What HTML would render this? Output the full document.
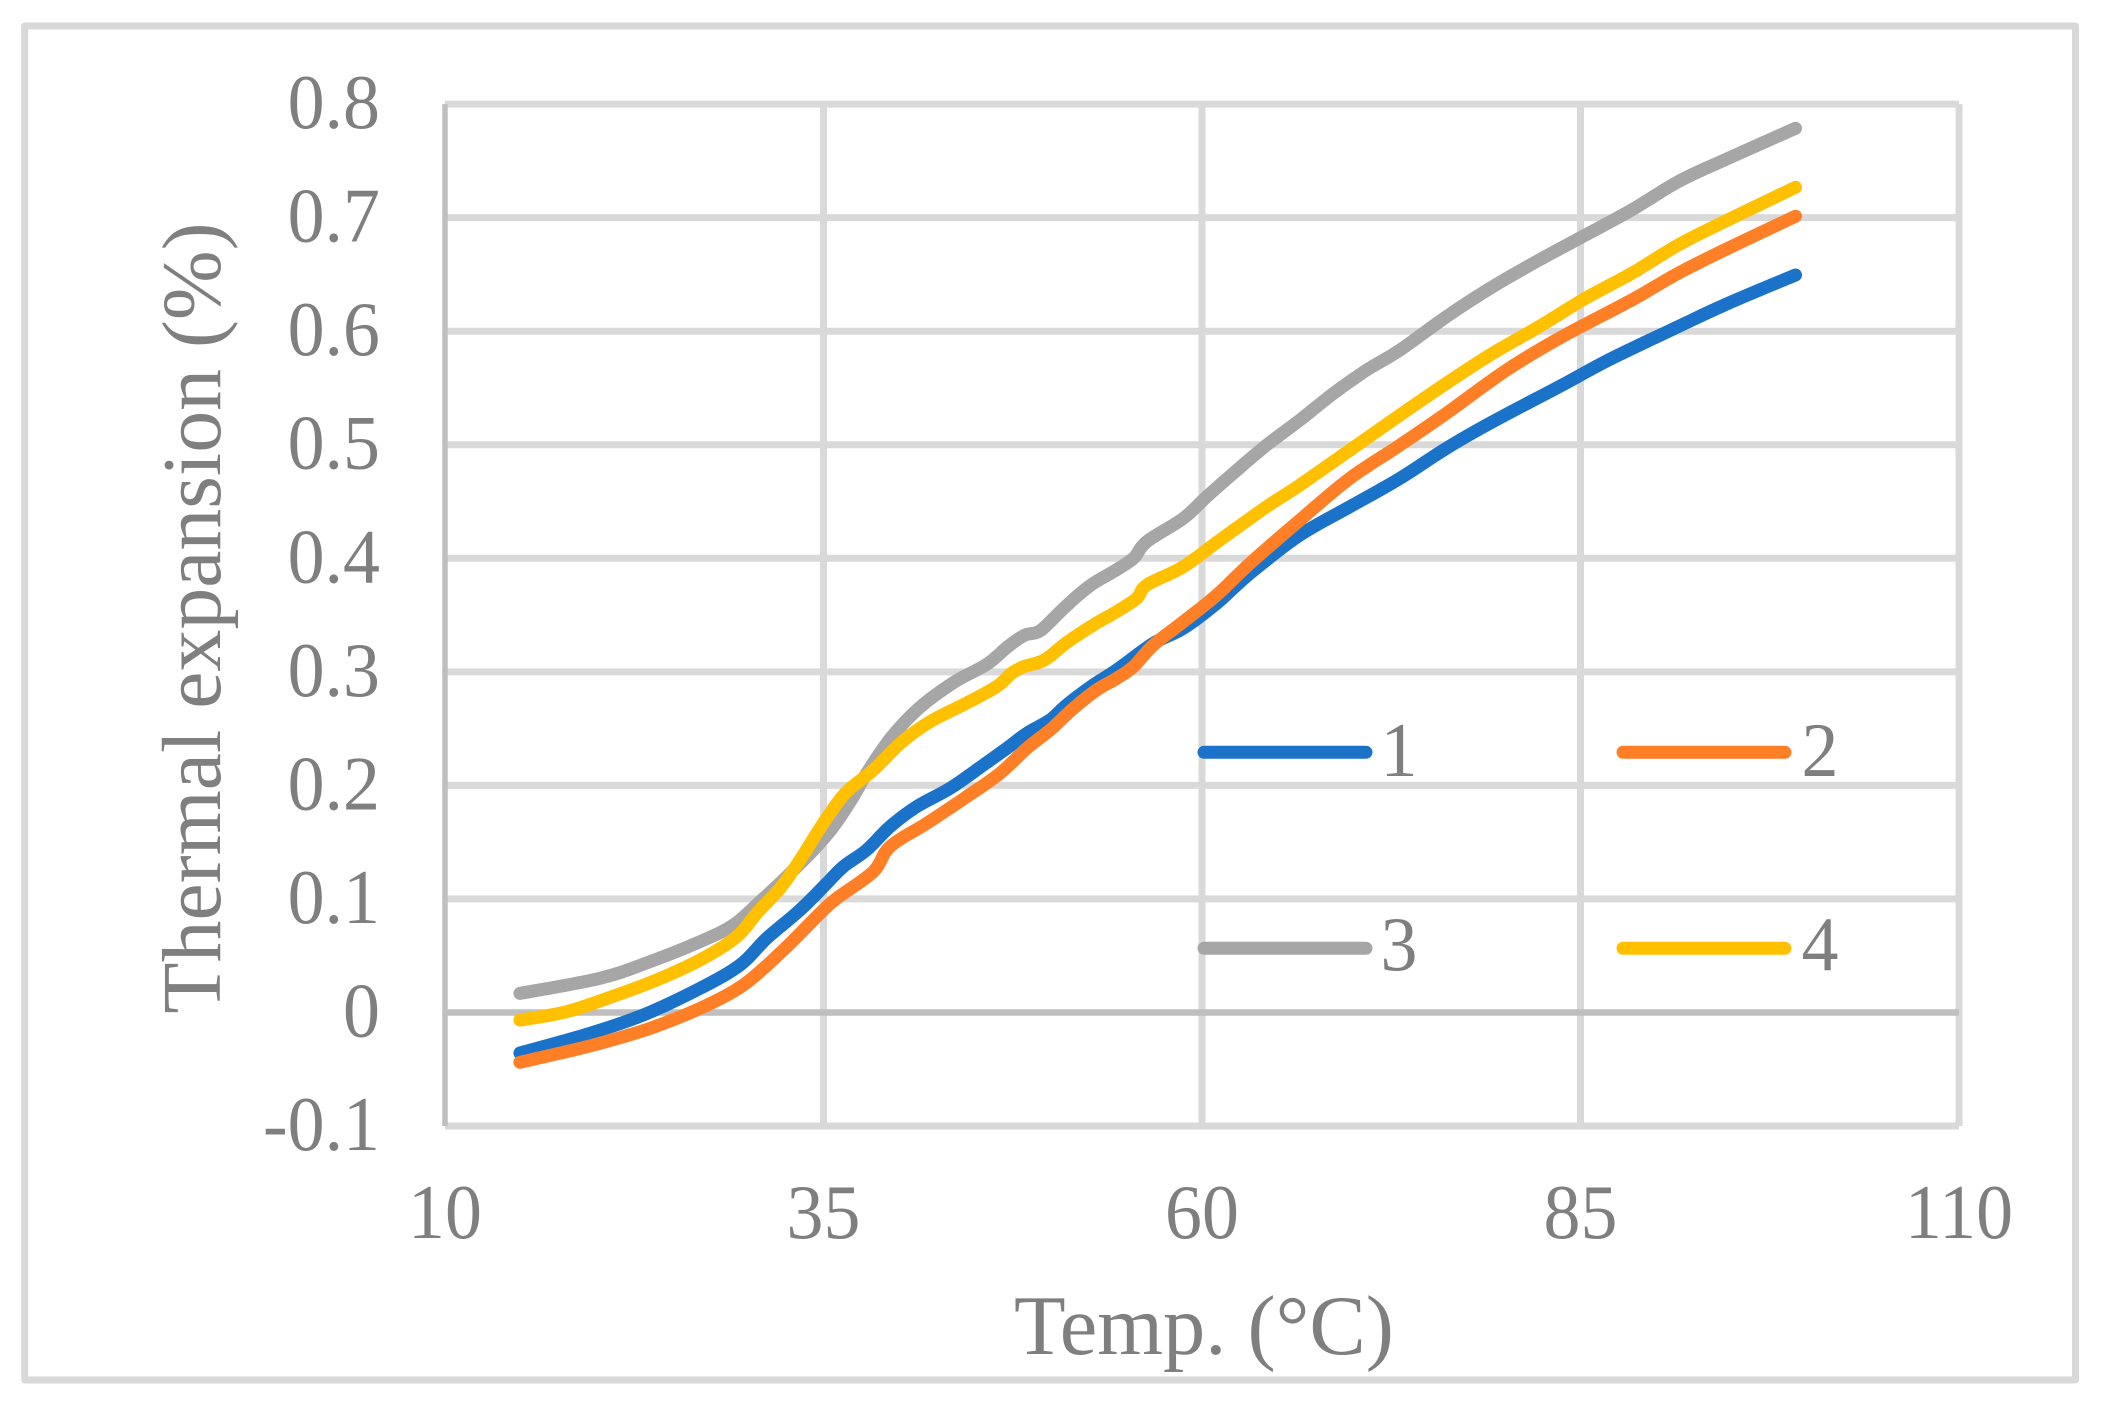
<!DOCTYPE html>
<html lang="en">
<head>
<meta charset="utf-8">
<title>Thermal expansion chart</title>
<style>
html,body{margin:0;padding:0;background:#fff;width:2127px;height:1425px;overflow:hidden}
svg{display:block}
text{font-family:"Liberation Serif","Times New Roman",serif;fill:#7f7f7f}
</style>
</head>
<body>
<svg id="chart" xmlns="http://www.w3.org/2000/svg" width="2127" height="1425" viewBox="0 0 2127 1425">
<rect x="24.7" y="26" width="2050.8" height="1354" fill="#fff" stroke="#d9d9d9" stroke-width="7" stroke-linejoin="round"/>
<g id="grid"></g>
<g id="axes"></g>
<g id="series"></g>
<g id="legend"></g>
<text transform="translate(220,618) rotate(-90)" text-anchor="middle" font-size="83.8">Thermal expansion (%)</text>
<text x="1204" y="1354" text-anchor="middle" font-size="84.5">Temp. (°C)</text>
</svg>
<script>
const xTicks = [10, 35, 60, 85, 110];
const yTicks = [-0.1, 0, 0.1, 0.2, 0.3, 0.4, 0.5, 0.6, 0.7, 0.8];
const yTickLabels = ['-0.1', '0', '0.1', '0.2', '0.3', '0.4', '0.5', '0.6', '0.7', '0.8'];

const temps1 = [14.95, 19.58, 23.1, 26.84, 29.49, 31.25, 33.45, 35.21, 36.31, 37.85, 39.39, 41.15, 43.36, 45.56, 47.1, 48.42, 49.96, 51.06, 52.82, 54.36, 56.79, 58.77, 60.97, 63.17, 66.47, 69.77, 73.08, 76.14, 79.2, 83.8, 86.86, 91.45, 94.51, 99.2];
const values1 = [-0.0357, -0.0184, -0.0022, 0.0212, 0.0418, 0.0653, 0.0902, 0.1137, 0.1284, 0.1431, 0.1636, 0.1812, 0.1974, 0.2179, 0.2326, 0.2458, 0.2576, 0.2708, 0.2884, 0.3016, 0.3251, 0.3383, 0.3603, 0.3867, 0.4205, 0.4454, 0.4704, 0.4969, 0.5203, 0.5526, 0.5747, 0.604, 0.6231, 0.6495];

const temps2 = [14.95, 18.04, 20.24, 23.54, 26.84, 29.71, 32.35, 34.77, 35.87, 38.29, 39.39, 41.81, 44.46, 46.66, 48.42, 49.96, 51.5, 53.04, 54.36, 55.47, 56.79, 58.77, 60.97, 63.17, 66.47, 69.77, 73.08, 76.14, 80.12, 83.8, 88.39, 91.45, 94.51, 99.2];
const values2 = [-0.0439, -0.0345, -0.0272, -0.014, 0.0036, 0.0242, 0.055, 0.0873, 0.1005, 0.124, 0.146, 0.1665, 0.19, 0.2106, 0.2326, 0.2487, 0.2678, 0.284, 0.2942, 0.3045, 0.3236, 0.3441, 0.3676, 0.3955, 0.4337, 0.4704, 0.4997, 0.5277, 0.5658, 0.5952, 0.6275, 0.651, 0.6715, 0.7012];

const temps3 = [14.95, 20.24, 23.54, 26.84, 29.05, 30.81, 32.57, 34.33, 35.65, 36.97, 37.85, 39.5, 41.4, 43.7, 45.78, 47.2, 48.3, 49.3, 50.6, 51.7, 52.82, 54.14, 55.47, 56.35, 58.77, 60.31, 62.07, 64.27, 66.47, 68.68, 70.88, 73.08, 76.14, 79.2, 82.27, 85.33, 88.39, 91.45, 94.51, 99.2];
const values3 = [0.0168, 0.0301, 0.0447, 0.0623, 0.077, 0.0976, 0.1196, 0.1431, 0.1636, 0.19, 0.2106, 0.2426, 0.2691, 0.2915, 0.3065, 0.3225, 0.3323, 0.336, 0.3525, 0.3661, 0.3779, 0.3882, 0.3999, 0.4146, 0.4352, 0.4542, 0.4748, 0.4997, 0.5218, 0.5452, 0.5658, 0.5834, 0.6128, 0.6392, 0.6627, 0.6847, 0.7068, 0.7317, 0.7508, 0.7787];

const temps4 = [14.95, 18.04, 21.34, 23.98, 26.84, 29.27, 30.59, 32.13, 33.45, 34.55, 35.43, 36.53, 38.29, 40.2, 42.1, 44.46, 46.44, 47.4, 48.2, 49.6, 51.07, 52.82, 54.36, 55.69, 56.35, 58.77, 61.19, 64.27, 66.47, 69.77, 73.08, 76.14, 79.2, 82.27, 85.33, 88.39, 91.45, 94.51, 99.2];
const values4 = [-0.0067, 0.0007, 0.0154, 0.0286, 0.0462, 0.0667, 0.0873, 0.1093, 0.1343, 0.1577, 0.1754, 0.1944, 0.2135, 0.2385, 0.2565, 0.2725, 0.287, 0.2985, 0.3044, 0.3105, 0.3258, 0.3412, 0.353, 0.3647, 0.3764, 0.3926, 0.4161, 0.4454, 0.4645, 0.4953, 0.5262, 0.5541, 0.5805, 0.604, 0.629, 0.651, 0.6759, 0.6965, 0.7267];

const seriesNames = ['1', '2', '3', '4'];
const seriesColors = ['#1a73c8', '#ff7f27', '#a6a6a6', '#ffc000'];

const NS = 'http://www.w3.org/2000/svg';
const xMin = 10, xMax = 110, yMin = -0.1, yMax = 0.8;
const left = 445, right = 1959, top_ = 104.1, bottom = 1126;
function xScale(v){ return left + (v - xMin) / (xMax - xMin) * (right - left); }
function yScale(v){ return bottom - (v - yMin) / (yMax - yMin) * (bottom - top_); }
function make(tag, attrs, parent){
  const el = document.createElementNS(NS, tag);
  for (const k in attrs) el.setAttribute(k, attrs[k]);
  parent.appendChild(el);
  return el;
}
function smoothPath(xs, ys){
  const px = xs.map(xScale), py = ys.map(yScale);
  let d = 'M' + px[0].toFixed(1) + ' ' + py[0].toFixed(1);
  for (let i = 0; i < px.length - 1; i++) {
    const a = Math.max(i - 1, 0), b = Math.min(i + 2, px.length - 1);
    const c1x = px[i] + (px[i + 1] - px[a]) / 6, c1y = py[i] + (py[i + 1] - py[a]) / 6;
    const c2x = px[i + 1] - (px[b] - px[i]) / 6, c2y = py[i + 1] - (py[b] - py[i]) / 6;
    d += 'C' + c1x.toFixed(1) + ' ' + c1y.toFixed(1) + ' ' + c2x.toFixed(1) + ' ' + c2y.toFixed(1) + ' ' + px[i + 1].toFixed(1) + ' ' + py[i + 1].toFixed(1);
  }
  return d;
}
const grid = document.getElementById('grid');
const axes = document.getElementById('axes');
const seriesG = document.getElementById('series');
const legend = document.getElementById('legend');

xTicks.forEach((t) => {
  if (t !== xMin) {
    const l = make('line', {x1: xScale(t), x2: xScale(t), y1: top_, y2: bottom, stroke: '#d9d9d9', 'stroke-width': 7}, grid);
    
    
  }
  const lb = make('text', {transform: 'translate(' + xScale(t) + ',1238) scale(0.96,1)', 'text-anchor': 'middle', 'font-size': 77}, axes);
  lb.textContent = t;
  
  
});
yTicks.forEach((t, i) => {
  if (t !== 0) {
    const l = make('line', {x1: left, x2: right, y1: yScale(t), y2: yScale(t), stroke: '#d9d9d9', 'stroke-width': 7}, grid);
    
    
  }
  const lb = make('text', {transform: 'translate(380,' + (yScale(t) + 24) + ') scale(0.96,1)', 'text-anchor': 'end', 'font-size': 77}, axes);
  lb.textContent = yTickLabels[i];
  
  
});
const axisY = make('line', {x1: left, x2: left, y1: top_, y2: bottom, stroke: '#bfbfbf', 'stroke-width': 5.5}, axes);


const axisX = make('line', {x1: left, x2: right, y1: yScale(0), y2: yScale(0), stroke: '#bfbfbf', 'stroke-width': 6.5}, axes);



[[temps1, values1], [temps2, values2], [temps3, values3], [temps4, values4]].forEach((s, i) => {
  const p = make('path', {d: smoothPath(s[0], s[1]), fill: 'none', stroke: seriesColors[i], 'stroke-width': 13, 'stroke-linecap': 'round', 'stroke-linejoin': 'round'}, seriesG);
  
  
});

const legendCols = [0, 419];
const legendRows = [0, 196];
const legendTextX = [1399, 1820];
const legendTextY = [776, 970];
seriesNames.forEach((n, i) => {
  const ox = legendCols[i % 2], oy = legendRows[i >> 1];
  const l = make('line', {x1: 1204 + ox, x2: 1366 + ox, y1: 752.3 + oy, y2: 752.3 + oy, stroke: seriesColors[i], 'stroke-width': 13, 'stroke-linecap': 'round'}, legend);
  
  
  const t = make('text', {transform: 'translate(' + legendTextX[i % 2] + ',' + legendTextY[i >> 1] + ') scale(0.96,1)', 'text-anchor': 'middle', 'font-size': 77}, legend);
  t.textContent = n;
  
  
});
</script>
</body>
</html>
